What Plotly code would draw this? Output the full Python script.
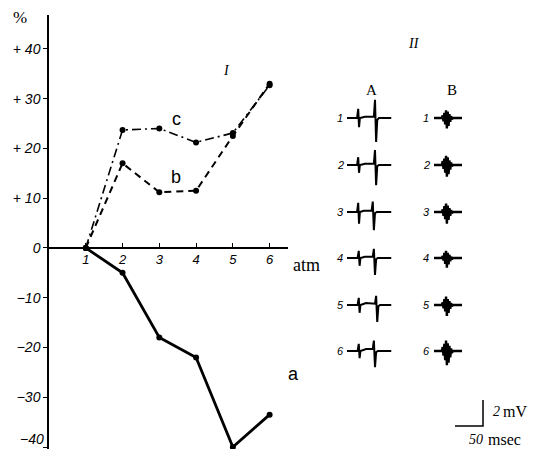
import plotly.graph_objects as go

# The page body has an 8px default margin, so the figure is placed 8px in;
# reference pixel positions are converted with OFF.
OFF = 8
W, H = 537 - 2 * OFF, 457 - 2 * OFF

# ---- main chart data ----
pressure = [1, 2, 3, 4, 5, 6]
curve_a = [0, -5, -18, -22, -40, -33.5]
curve_b = [0, 17, 11.2, 11.5, 22.5, 33]
curve_c = [0, 23.7, 24, 21.2, 23.1, 32.7]
y_ticks = [40, 30, 20, 10, 0, -10, -20, -30, -40]
y_ticklabels = ["+ 40", "+ 30", "+ 20", "+ 10", "0", "\u221210", "\u221220", "\u221230", "\u221240"]
x_ticks = [1, 2, 3, 4, 5, 6]
x_ticklabels = ["1", "2", "3", "4", "5", "6"]

# ---- electrogram traces (time ms, amplitude mV) ----
row_labels = ["1", "2", "3", "4", "5", "6"]
A_t = [
    [0, 18, 20, 21.5, 23, 32, 48, 50, 52, 54, 57, 79],
    [0, 18, 20, 21.5, 23, 32, 48, 50, 52, 54, 57, 79],
    [0, 18, 20, 21.5, 23, 30, 44, 46, 48, 50, 53, 79],
    [0, 19, 21, 22.5, 24, 32, 46, 48, 50, 52, 55, 79],
    [0, 19, 21, 22.5, 24, 34, 50, 52, 54, 56, 59, 79],
    [0, 19, 21, 22.5, 24, 34, 46, 48, 50, 52, 55, 79],
]
A_v = [
    [0, 0, 0.7, -0.7, 0, 0.1, 0.1, 1.4, -1.85, -0.15, 0, 0],
    [0, 0, 0.6, -0.6, 0, 0.1, 0.1, 1.15, -1.55, -0.1, 0, 0],
    [0, 0, 0.7, -0.9, 0, 0.1, 0.1, 0.8, -1.4, -0.1, 0, 0],
    [0, 0, 0.55, -0.6, 0, 0.1, 0.1, 0.7, -1.3, -0.1, 0, 0],
    [0, 0, 0.55, -0.6, 0, 0.15, 0.1, 0.7, -1.3, -0.1, 0, 0],
    [0, 0, 0.55, -0.55, 0, 0.15, 0.15, 0.8, -1.25, -0.1, 0, 0],
]
B_t = [0, 14, 15.5, 17, 18.5, 20, 21.5, 23, 24.5, 26, 27.5, 29, 30.5, 32, 34, 50]
B_v = [
    [0, 0, 0.2, -0.25, 0.4, -0.5, 0.6, -0.8, 0.5, -0.6, 0.3, -0.3, 0.15, -0.1, 0, 0],
    [0, 0, 0.3, -0.3, 0.5, -0.6, 0.7, -0.9, 0.6, -0.7, 0.35, -0.35, 0.2, -0.1, 0, 0],
    [0, 0, 0.2, -0.3, 0.45, -0.55, 0.65, -0.9, 0.5, -0.6, 0.3, -0.3, 0.15, -0.1, 0, 0],
    [0, 0, 0.15, -0.2, 0.4, -0.45, 0.55, -0.75, 0.4, -0.5, 0.25, -0.25, 0.1, -0.1, 0, 0],
    [0, 0, 0.2, -0.25, 0.45, -0.5, 0.65, -0.85, 0.45, -0.6, 0.3, -0.3, 0.15, -0.1, 0, 0],
    [0, 0, 0.3, -0.35, 0.55, -0.7, 0.8, -1.1, 0.6, -0.9, 0.4, -0.5, 0.2, -0.15, 0, 0],
]
scale_ms = 50
scale_mV = 2

# helper-axis scale (px per unit)
PX_PER_MS = 0.56
PX_PER_MV = 13.0


def fx(p):  # reference page x -> figure x
    return p - OFF


def fy(q):  # reference page y -> figure y
    return q - OFF


def px_to_ms(p):
    return fx(p) / PX_PER_MS


def py_to_mv(q):
    return (H - fy(q)) / PX_PER_MV


fig = go.Figure()

fig.add_trace(go.Scatter(x=pressure, y=curve_a, mode="lines+markers",
                         line=dict(color="black", width=2.8),
                         marker=dict(color="black", size=6), showlegend=False,
                         cliponaxis=False))
fig.add_trace(go.Scatter(x=pressure, y=curve_b, mode="lines+markers",
                         line=dict(color="black", width=2, dash="7px,5px"),
                         marker=dict(color="black", size=6), showlegend=False))
fig.add_trace(go.Scatter(x=pressure, y=curve_c, mode="lines+markers",
                         line=dict(color="black", width=1.6, dash="9px,4px,2px,4px"),
                         marker=dict(color="black", size=6), showlegend=False))

# electrograms on helper axes
row_py = [118, 165, 212, 258, 305, 351]
colA_px, colB_px = 347, 434
for i in range(6):
    base = py_to_mv(row_py[i])
    fig.add_trace(go.Scatter(x=[px_to_ms(colA_px) + t for t in A_t[i]],
                             y=[base + v for v in A_v[i]],
                             mode="lines", line=dict(color="black", width=2),
                             xaxis="x2", yaxis="y2", showlegend=False, hoverinfo="skip"))
    fig.add_trace(go.Scatter(x=[px_to_ms(colB_px) + t for t in B_t],
                             y=[base + v for v in B_v[i]],
                             mode="lines", line=dict(color="black", width=2.4),
                             xaxis="x2", yaxis="y2", showlegend=False, hoverinfo="skip"))

# scale bar
cx, cy = px_to_ms(483), py_to_mv(426)
fig.add_trace(go.Scatter(x=[cx - scale_ms, cx, cx], y=[cy, cy, cy + scale_mV],
                         mode="lines", line=dict(color="black", width=1.5),
                         xaxis="x2", yaxis="y2", showlegend=False, hoverinfo="skip"))

serif = "Liberation Serif"
sans = "Liberation Sans"

ann = []


def add_text(px, py, text, size=14, family=serif, style="normal", xanchor="center"):
    ann.append(dict(x=fx(px) / W, y=1 - fy(py) / H, xref="paper", yref="paper",
                    text=text, showarrow=False, xanchor=xanchor, yanchor="middle",
                    font=dict(family=family, size=size, color="black", style=style)))


add_text(20, 18, "%", 17)
add_text(226, 71, "I", 14, style="italic")
add_text(414, 44, "II", 14, style="italic")
add_text(371, 90, "A", 15)
add_text(452, 90, "B", 15)
add_text(176, 119, "c", 18, sans)
add_text(176, 177, "b", 18, sans)
add_text(293, 374, "a", 18, sans)
add_text(306, 265, "atm", 18)
for i in range(6):
    add_text(340, row_py[i], row_labels[i], 11, sans, "italic")
    add_text(426, row_py[i], row_labels[i], 11, sans, "italic")
add_text(491, 411, "2", 14, serif, "italic", "left")
add_text(501, 411, "mV", 16, serif, "normal", "left")
add_text(467, 439, "50", 14, serif, "italic", "left")
add_text(486, 439, "msec", 16, serif, "normal", "left")

# bottom tick label as an annotation kept inside the figure's lower edge
ann.append(dict(x=fx(46) / W, y=0, xref="paper", yref="paper",
                text=y_ticklabels[-1], showarrow=False, xanchor="right", yanchor="bottom",
                font=dict(family=sans, size=14, color="black", style="italic")))
axis_ticklabels = y_ticklabels[:-1] + [""]

fig.update_layout(
    width=W, height=H,
    margin=dict(l=0, r=0, t=0, b=0),
    paper_bgcolor="white", plot_bgcolor="rgba(0,0,0,0)",
    annotations=ann,
    xaxis=dict(domain=[fx(49) / W, fx(288) / W], range=[0, 6.5], anchor="free",
               position=(H - fy(248)) / H, showline=True, linecolor="black", linewidth=1.5,
               ticks="inside", ticklen=4, tickcolor="black", tickwidth=1,
               tickvals=x_ticks, ticktext=x_ticklabels, showgrid=False, zeroline=False,
               tickfont=dict(family=sans, size=13, color="black", style="italic")),
    yaxis=dict(domain=[0, (H - fy(15)) / H], range=[-40.4, 46.8],
               showline=True, linecolor="black", linewidth=1.5,
               ticks="outside", ticklen=4, tickcolor="black", tickwidth=1.2,
               tickvals=y_ticks, ticktext=axis_ticklabels, showgrid=False, zeroline=False,
               tickfont=dict(family=sans, size=14, color="black", style="italic")),
    xaxis2=dict(domain=[0, 1], range=[0, W / PX_PER_MS], visible=False, anchor="y2"),
    yaxis2=dict(domain=[0, 1], range=[0, H / PX_PER_MV], visible=False, anchor="x2"),
)

fig.write_html("out.html")
